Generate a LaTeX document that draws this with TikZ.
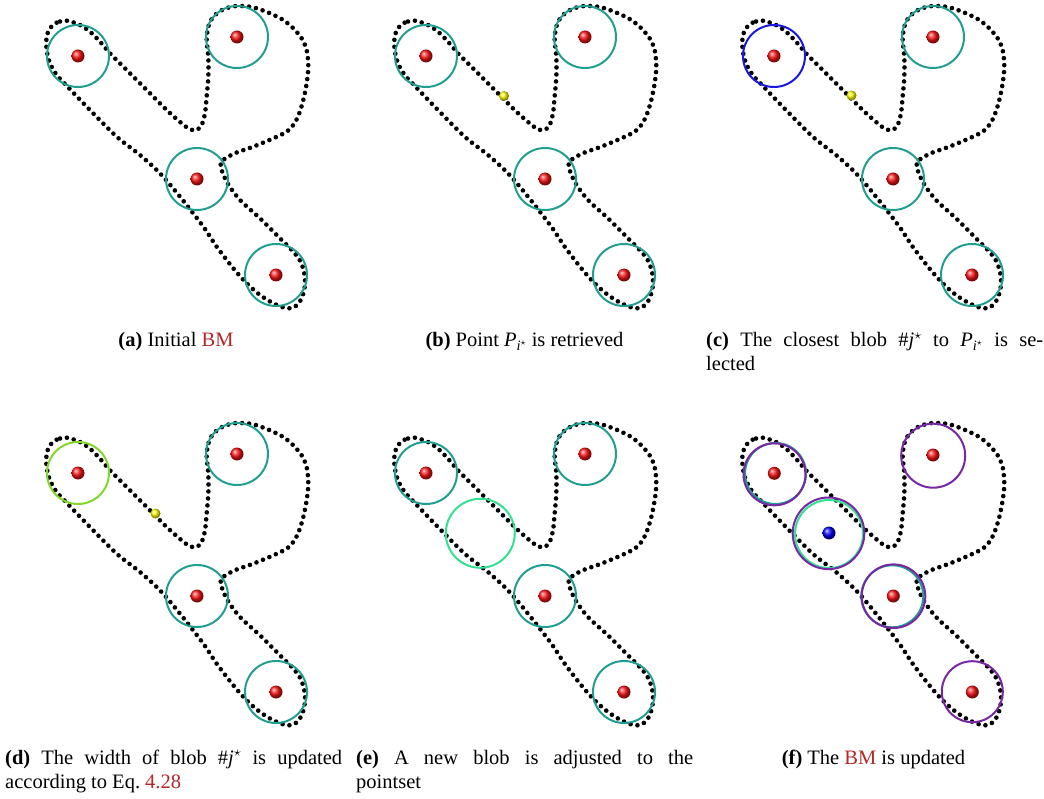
\documentclass[tikz,border=0pt]{standalone}
\usepackage{fontspec}
\setmainfont{Liberation Serif}
\definecolor{blobteal}{RGB}{32,158,143}
\definecolor{blobblue}{RGB}{25,25,225}
\definecolor{blobyg}{RGB}{130,215,40}
\definecolor{blobmint}{RGB}{50,225,145}
\definecolor{blobpurple}{RGB}{120,40,165}
\definecolor{refred}{RGB}{180,40,40}
\definecolor{ballred}{RGB}{255,20,20}
\tikzset{
  contourline/.style={line width=4.6pt, line cap=round, dash pattern=on 0pt off 7pt, black},
  blobcirc/.style={line width=2pt},
  capline/.style={inner sep=0pt, font=\fontsize{20.5}{24}\selectfont},
  capblock/.style={capline, anchor=north west, text width=337pt, align=justify},
}
\newcommand\drawcontour{%
  \begin{scope}[x=0.33333pt,y=-0.33333pt]
  \draw[contourline] plot[smooth cycle, tension=0.5] coordinates {
    (200,62) (170,68) (150,85) (140,110) (140,150) (150,190) (170,225) (198,255)
    (260,320) (350,410) (420,465) (480,520) (540,590) (610,680) (650,740) (700,805)
    (740,850) (780,885) (820,910) (860,925) (885,920) (905,895) (915,855) (912,815)
    (900,782) (880,755) (840,715) (780,655) (720,600) (680,545) (662,490)
    (700,462) (760,440) (820,415) (860,395) (882,372) (897,342) (910,300) (920,250)
    (925,200) (920,150) (905,115) (880,85) (850,60) (810,40) (760,22) (710,18)
    (670,28) (640,50) (625,80) (620,120) (625,170) (625,230) (620,290) (615,340)
    (605,375) (590,390) (570,388) (545,370) (500,330) (440,270) (380,210)
    (330,160) (300,125) (270,95) (240,75)
  };
  \end{scope}}
\newcommand\redballs{%
  \shade[ball color=ballred] (78,56) circle (6.5pt);
  \shade[ball color=ballred] (237,37) circle (6.5pt);
  \shade[ball color=ballred] (197,179) circle (6.5pt);
  \shade[ball color=ballred] (276,275) circle (6.5pt);}
\newcommand\Pstar{\mathit{P}_{\mathit{i}^\star}}
\newcommand\jstar{\#\mathit{j}^\star}
\begin{document}
\begin{tikzpicture}[x=1pt,y=-1pt]
\useasboundingbox (0,0) rectangle (1044,799);
\fill[white] (0,0) rectangle (1044,799);
% (a)
\begin{scope}
  \drawcontour
  \draw[blobcirc, blobteal] (78,56) circle (31pt) (237,37) circle (31pt) (197,179) circle (31pt) (276,275) circle (31pt);
  \redballs
\end{scope}
% (b)
\begin{scope}[shift={(348,0)}]
  \drawcontour
  \draw[blobcirc, blobteal] (78,56) circle (31pt) (237,37) circle (31pt) (197,179) circle (31pt) (276,275) circle (31pt);
  \redballs
  \shade[ball color=yellow] (156,96) circle (5pt);
\end{scope}
% (c)
\begin{scope}[shift={(696,0)}]
  \drawcontour
  \draw[blobcirc, blobteal] (237,37) circle (31pt) (197,179) circle (31pt) (276,275) circle (31pt);
  \draw[blobcirc, blobblue] (78,56) circle (31pt);
  \redballs
  \shade[ball color=yellow] (155.5,95.5) circle (5pt);
\end{scope}
% (d)
\begin{scope}[shift={(0,417)}]
  \drawcontour
  \draw[blobcirc, blobteal] (237,37) circle (31pt) (197,179) circle (31pt) (276,275) circle (31pt);
  \draw[blobcirc, blobyg] (78,56) circle (31pt);
  \redballs
  \shade[ball color=yellow] (155.5,96.5) circle (5pt);
\end{scope}
% (e)
\begin{scope}[shift={(348,417)}]
  \drawcontour
  \draw[blobcirc, blobteal] (78,56) circle (31pt) (237,37) circle (31pt) (197,179) circle (31pt) (276,275) circle (31pt);
  \draw[blobcirc, blobmint] (132.3,116.3) circle (34.5pt);
  \redballs
\end{scope}
% (f)
\begin{scope}[shift={(696,417)}]
  \drawcontour
  \draw[blobcirc, blobteal] (79.5,56.5) circle (30.5pt) (196.3,179.3) circle (31pt);
  \draw[blobcirc, blobmint] (133,117) circle (34pt);
  \draw[blobcirc, blobpurple] (78.5,57.3) circle (31pt) (237.2,38.7) circle (32pt) (197.5,179.2) circle (31.8pt) (276.3,274.7) circle (30.5pt) (132.5,116.3) circle (35.8pt);
  \shade[ball color=ballred] (78.3,56.3) circle (6.5pt);
  \shade[ball color=ballred] (237,38) circle (6.5pt);
  \shade[ball color=ballred] (197.3,179) circle (6.5pt);
  \shade[ball color=ballred] (276.3,275) circle (6.5pt);
  \shade[ball color=blue] (133,116) circle (6.5pt);
\end{scope}
% captions
\node[capline, anchor=base] (capa) at (176,347) {\textbf{(a)} Initial \textcolor{refred}{BM}};
\node[capline, anchor=base] (capb) at (524.5,347) {\textbf{(b)} Point $\Pstar$ is retrieved};
\node[capblock] (capc) at (706,330) {\strut\textbf{(c)} The closest blob $\jstar$ to $\Pstar$ is se-\linebreak lected};
\node[capblock] (capd) at (5,747) {\strut\textbf{(d)} The width of blob $\jstar$ is updated\linebreak according to Eq.~\textcolor{refred}{4.28}};
\node[capblock] (cape) at (356,747) {\strut\textbf{(e)} A new blob is adjusted to the\linebreak pointset};
\node[capline, anchor=base] (capf) at (873.5,764) {\textbf{(f)} The \textcolor{refred}{BM} is updated};
\end{tikzpicture}
\end{document}
